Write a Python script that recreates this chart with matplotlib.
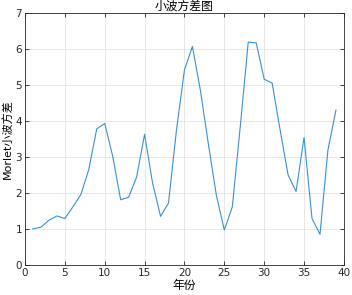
import numpy as np
import matplotlib.pyplot as plt

plt.rcParams['font.family'] = ['DejaVu Sans', 'Noto Sans CJK SC']

years = np.arange(1, 40)
wavelet_var = [1.00, 1.05, 1.24, 1.36, 1.29, 1.61, 1.95, 2.65, 3.78, 3.93,
               3.02, 1.81, 1.88, 2.44, 3.63, 2.28, 1.35, 1.72, 3.75, 5.42,
               6.07, 4.85, 3.36, 1.94, 0.97, 1.61, 3.84, 6.19, 6.17, 5.16,
               5.05, 3.75, 2.50, 2.04, 3.54, 1.29, 0.85, 3.20, 4.30]
xticks = [0, 5, 10, 15, 20, 25, 30, 35, 40]
yticks = [0, 1, 2, 3, 4, 5, 6, 7]

fig = plt.figure(figsize=(3.52, 2.95), dpi=100)
ax = fig.add_axes([0.071, 0.102, 0.906, 0.854])
ax.plot(years, wavelet_var, color='#3d8fcc', linewidth=0.8)

ax.set_xlim(0, 40)
ax.set_ylim(0, 7)
ax.set_xticks(xticks)
ax.set_yticks(yticks)
ax.tick_params(direction='in', length=3, width=0.6, labelsize=7.5,
               top=True, right=True, colors='#262626', pad=2)
ax.grid(True, color='#e3e3e3', linewidth=0.6)
ax.set_axisbelow(True)
for s in ax.spines.values():
    s.set_color('#262626')
    s.set_linewidth(0.6)

cjk = ['Noto Sans CJK SC', 'DejaVu Sans']
ax.set_title('小波方差图', fontsize=8.5, family=cjk, pad=2)
ax.set_xlabel('年份', fontsize=8.5, family=cjk, labelpad=1)
ax.set_ylabel('Morlet小波方差', fontsize=8, family=['DejaVu Sans', 'Noto Sans CJK SC'], labelpad=2)

fig.savefig('out.png', dpi=100)
